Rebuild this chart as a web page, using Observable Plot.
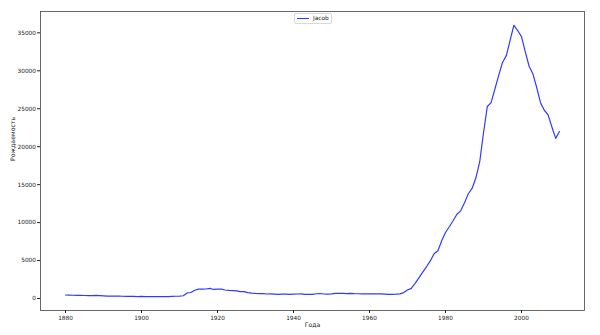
<!DOCTYPE html>
<html>
<head>
<meta charset="utf-8">
<script src="https://cdn.jsdelivr.net/npm/d3@7"></script>
<script src="https://cdn.jsdelivr.net/npm/@observablehq/plot@0.6"></script>
<style>
  html, body { margin: 0; padding: 0; background: #fff; }
  #wrap { position: relative; width: 600px; height: 335px; }
  #legend {
    position: absolute; left: 294px; top: 13px; width: 38px; height: 11px;
    border: 0.8px solid #d8d8d8; border-radius: 2px; background: #fff;
    font-family: "DejaVu Sans", sans-serif; font-size: 5.8px; color: #222;
    box-sizing: border-box;
  }
  #legend .sw { position: absolute; left: 2px; top: 4.2px; width: 11.5px; height: 1.3px; background: #2f3cff; }
  #legend .lb { position: absolute; left: 18px; top: 1.4px; }
</style>
</head>
<body>
<div id="wrap"></div>
<script>
const seriesName = "Jacob";
const years = d3.range(1880, 2011);
const births = [
  // 1880-1889
  460, 440, 430, 410, 420, 395, 390, 370, 400, 370,
  // 1890-1899
  340, 320, 330, 310, 330, 300, 285, 270, 290, 250,
  // 1900-1909
  270, 240, 245, 235, 250, 260, 245, 250, 270, 300,
  // 1910-1919
  310, 360, 735, 793, 1091, 1244, 1239, 1253, 1340, 1192,
  // 1920-1929
  1228, 1239, 1119, 1076, 1047, 1003, 906, 897, 774, 710,
  // 1930-1939
  669, 641, 633, 593, 619, 577, 545, 585, 572, 541,
  // 1940-1949
  573, 592, 618, 549, 547, 543, 629, 657, 593, 574,
  // 1950-1959
  602, 666, 678, 689, 652, 665, 638, 629, 622, 608,
  // 1960-1969
  624, 601, 600, 599, 565, 536, 557, 567, 606, 779,
  // 1970-1979
  1118, 1339, 1995, 2718, 3472, 4179, 4950, 5900, 6300, 7600,
  // 1980-1989
  8700, 9450, 10250, 11100, 11550, 12600, 13800, 14500, 15900, 18000,
  // 1990-1999
  21800, 25300, 25800, 27600, 29400, 31100, 32000, 34000, 36000, 35300,
  // 2000-2010
  34500, 32500, 30600, 29600, 27800, 25800, 24800, 24200, 22600, 21100, 22000
];
const xTicks = [1880, 1900, 1920, 1940, 1960, 1980, 2000];
const yTicks = [0, 5000, 10000, 15000, 20000, 25000, 30000, 35000];
const xLabel = "Года";
const yLabel = "Рождаемость";

const data = years.map((y, i) => ({year: y, births: births[i]}));

const chart = Plot.plot({
  width: 600,
  height: 335,
  marginLeft: 40,
  marginRight: 16,
  marginTop: 11,
  marginBottom: 25,
  style: {fontFamily: "DejaVu Sans, sans-serif", fontSize: "5.8px", color: "#222", background: "#fff"},
  x: {domain: [1873.42, 2016.58], ticks: xTicks, tickFormat: "d", tickSize: 3, tickPadding: 2.5, label: null},
  y: {domain: [-1580, 37810], ticks: yTicks, tickFormat: d => String(d), tickSize: 3, tickPadding: 1.5, label: null},
  marks: [
    Plot.frame({stroke: "#444", strokeWidth: 0.8}),
    Plot.axisX({ticks: xTicks, tickFormat: "d", tickSize: 3, tickPadding: 2.5, label: null}),
    Plot.axisY({ticks: yTicks, tickFormat: d => String(d), tickSize: 3, tickPadding: 1.5, label: null}),
    Plot.text([xLabel], {frameAnchor: "bottom", dy: 16, fontSize: 6.2, fill: "#222"}),
    Plot.text([yLabel], {frameAnchor: "left", dx: -27, rotate: -90, fontSize: 6.2, fill: "#222"}),
    Plot.line(data, {x: "year", y: "births", stroke: "#2f3cff", strokeWidth: 1.2})
  ]
});

const wrap = document.getElementById("wrap");
wrap.appendChild(chart);
const lg = document.createElement("div");
lg.id = "legend";
lg.innerHTML = '<div class="sw"></div><div class="lb"></div>';
lg.querySelector(".lb").textContent = seriesName;
wrap.appendChild(lg);
</script>
</body>
</html>
